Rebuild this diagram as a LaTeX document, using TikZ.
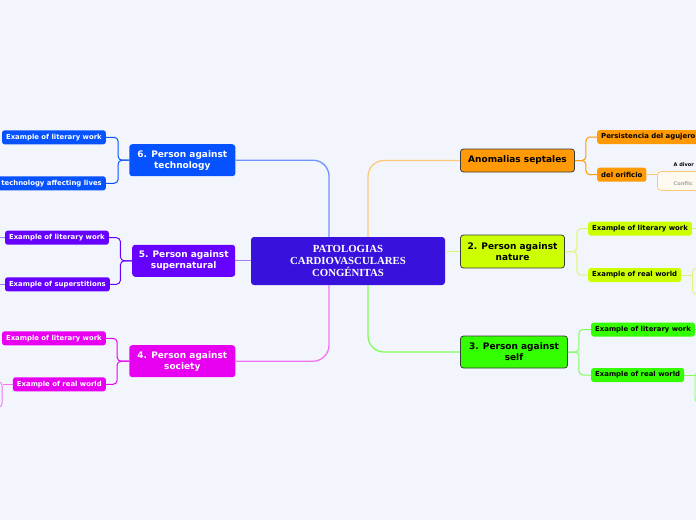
\documentclass[tikz,border=0pt]{standalone}
\usepackage{fontspec}
\usepackage{xcolor}
\usepackage{tikz}
\usetikzlibrary{calc}
\setmainfont{DejaVu Sans}
\newfontfamily\centralfont{Liberation Serif}
\definecolor{mmBg}{HTML}{F3F5FD}
\definecolor{mmCen}{HTML}{3812DC}
\definecolor{mmEdge}{HTML}{3A3A3A}
\definecolor{mmOr}{HTML}{FF9A05}
\definecolor{mmOrL}{HTML}{FFC878}
\definecolor{mmOrF}{HTML}{FFFAF0}
\definecolor{mmYg}{HTML}{CCFF00}
\definecolor{mmYgL}{HTML}{DDF577}
\definecolor{mmGr}{HTML}{33FF00}
\definecolor{mmGrL}{HTML}{80FF5C}
\definecolor{mmBl}{HTML}{0652FF}
\definecolor{mmBlL}{HTML}{6E95FF}
\definecolor{mmVi}{HTML}{6600FF}
\definecolor{mmViL}{HTML}{A57DFB}
\definecolor{mmMa}{HTML}{E800F0}
\definecolor{mmMaL}{HTML}{F274F2}
\begin{document}
\begin{tikzpicture}[x=1pt,y=-1pt,
  topic/.style={rounded corners=3pt,align=center,inner sep=0pt,font=\fontsize{9}{11}\selectfont\bfseries},
  rtopic/.style={topic,draw=mmEdge,line width=0.8pt},
  leaf/.style={rounded corners=2.5pt,inner xsep=4pt,inner ysep=0pt,minimum height=14,font=\fontsize{6.9}{8}\selectfont\bfseries},
  ghost/.style={rounded corners=4pt,line width=0.8pt,fill=none},
  conn/.style={line width=1.3pt,rounded corners=16pt},
  fork/.style={line width=1pt,rounded corners=4pt},
  tinytxt/.style={inner sep=0pt,anchor=west,font=\fontsize{5}{6}\selectfont\bfseries}]
\useasboundingbox (0,0) rectangle (696,520);
\clip (0,0) rectangle (696,520);
\fill[mmBg] (0,0) rectangle (696,520);
% centre
\node[fill=mmCen,text=white,rounded corners=3pt,minimum width=194,minimum height=48,align=center,
  font=\centralfont\fontsize{10.8}{11.6}\selectfont\bfseries] (central) at (348,261) {PATOLOGIAS\\CARDIOVASCULARES\\CONGÉNITAS};
% main topics, right
\node[rtopic,fill=mmOr,minimum width=114,minimum height=23] (anom) at (517.5,160.5) {Anomalias septales};
\node[rtopic,fill=mmYg,minimum width=104,minimum height=33] (nature) at (512.5,251.5) {2. Person against\\nature};
\node[rtopic,fill=mmGr,minimum width=107,minimum height=32] (self) at (514,352) {3. Person against\\self};
% main topics, left
\node[topic,fill=mmBl,text=white,minimum width=106,minimum height=32] (tech) at (182.3,160.2) {6. Person against\\technology};
\node[topic,fill=mmVi,text=white,minimum width=103,minimum height=32] (super) at (183.7,260.8) {5. Person against\\supernatural};
\node[topic,fill=mmMa,text=white,minimum width=106,minimum height=32] (soc) at (182.3,361.2) {4. Person against\\society};
% leaves
\node[leaf,fill=mmOr,anchor=west] (pers) at (597,137) {Persistencia del agujero};
\node[leaf,fill=mmOr,anchor=west] (orif) at (597,174.7) {del orificio};
\node[leaf,fill=mmYg,anchor=west] (natlit) at (588,228.7) {Example of literary work};
\node[leaf,fill=mmYg,anchor=west] (natreal) at (588,275) {Example of real world};
\node[leaf,fill=mmGr,anchor=west] (selflit) at (591,329.5) {Example of literary work};
\node[leaf,fill=mmGr,anchor=west] (selfreal) at (591,375) {Example of real world};
\node[leaf,fill=mmBl,text=white,anchor=east] (techlit) at (106,137.3) {Example of literary work};
\node[leaf,fill=mmBl,text=white,anchor=east] (techlives) at (106,183.3) {technology affecting lives};
\node[leaf,fill=mmVi,text=white,anchor=east] (superlit) at (109,237.7) {Example of literary work};
\node[leaf,fill=mmVi,text=white,anchor=east] (superst) at (110,284.3) {Example of superstitions};
\node[leaf,fill=mmMa,text=white,anchor=east] (soclit) at (106,338.3) {Example of literary work};
\node[leaf,fill=mmMa,text=white,anchor=east] (socreal) at (106,384.3) {Example of real world};
% next level, cut off by the page edge
\node[ghost,draw=mmOrL,fill=mmOrF,anchor=north west,minimum width=60,minimum height=19] (confl) at (657,171) {};
\node[tinytxt] (divor) at (673.5,164.5) {A divor};
\node[tinytxt,text=black!35] (conflic) at (673.5,184) {Conflic};
\node[ghost,draw=mmYgL,anchor=north west,minimum width=40,minimum height=26] (natnext) at (692,268) {};
\node[ghost,draw=mmGrL,anchor=north west,minimum width=40,minimum height=30] (selfnext) at (694.5,372) {};
\node[ghost,draw=mmMaL,anchor=north east,minimum width=40,minimum height=26] (socnext) at (2.5,381) {};
% main connectors
\draw[conn,mmOrL] ([xshift=20]central.north) |- (anom.west);
\draw[conn,mmYgL] (central.east |- nature.west) -- (nature.west);
\draw[conn,mmGrL] ([xshift=20]central.south) |- (self.west);
\draw[conn,mmBlL] ([xshift=-19]central.north) |- (tech.east);
\draw[conn,mmViL] (central.west |- super.east) -- (super.east);
\draw[conn,mmMaL] ([xshift=-19]central.south) |- (soc.east);
% forks
\draw[fork,mmOr] (anom.east) -- ++(11,0) |- (pers.west);
\draw[fork,mmOr] (anom.east) -- ++(11,0) |- (orif.west);
\draw[fork,mmYgL] (nature.east) -- ++(12,0) |- (natlit.west);
\draw[fork,mmYgL] (nature.east) -- ++(12,0) |- (natreal.west);
\draw[fork,mmGrL] (self.east) -- ++(11,0) |- (selflit.west);
\draw[fork,mmGrL] (self.east) -- ++(11,0) |- (selfreal.west);
\draw[fork,mmBl] (tech.west) -- ++(-11,0) |- (techlit.east);
\draw[fork,mmBl] (tech.west) -- ++(-11,0) |- (techlives.east);
\draw[fork,mmVi] (super.west) -- ++(-11.6,0) |- (superlit.east);
\draw[fork,mmVi] (super.west) -- ++(-11.6,0) |- (superst.east);
\draw[fork,mmMa] (soc.west) -- ++(-12,0) |- (soclit.east);
\draw[fork,mmMa] (soc.west) -- ++(-12,0) |- (socreal.east);
% onward lines
\draw[fork,mmOrL] (orif.east) -- (orif.east -| confl.west);
\draw[fork,mmYgL] (natlit.east) -- ++(10,0);
\draw[fork,mmYgL] (natreal.east) -- (natreal.east -| natnext.west);
\draw[fork,mmGrL] (selflit.east) -- ++(10,0);
\draw[fork,mmGrL] (selfreal.east) -- (selfreal.east -| selfnext.west);
\draw[fork,mmViL] (superlit.west) -- ++(-6,0);
\draw[fork,mmViL] (superst.west) -- ++(-6,0);
\draw[fork,mmMaL] (socreal.west) -- (socreal.west -| socnext.east);
\end{tikzpicture}
\end{document}
